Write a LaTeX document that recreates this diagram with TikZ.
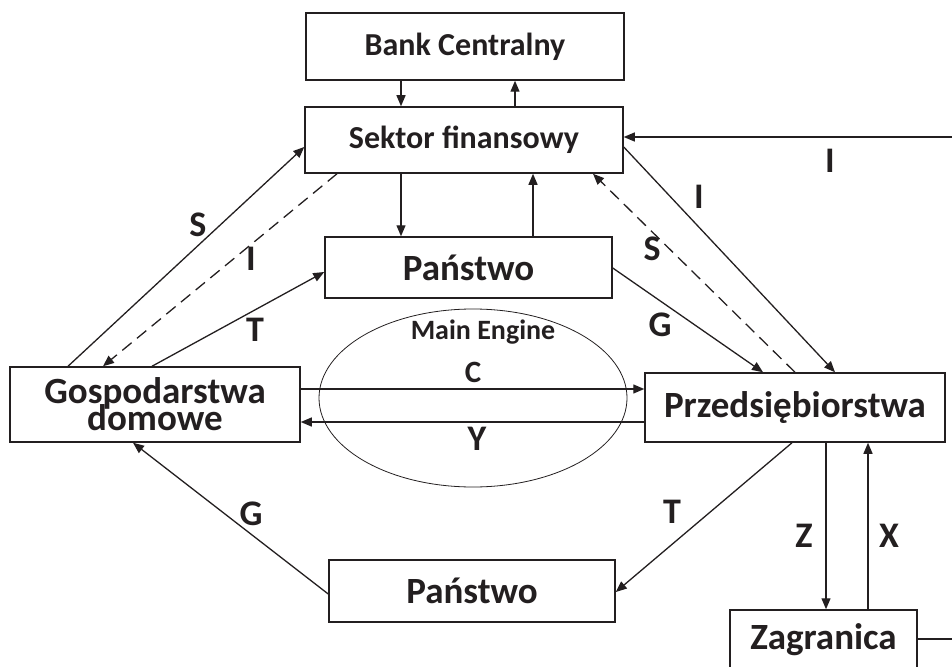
\documentclass[tikz,border=0pt]{standalone}
\usepackage{fontspec}
\setmainfont{Carlito}
\usetikzlibrary{arrows.meta,shapes.geometric}
\definecolor{ink}{HTML}{231F20}
\newcommand\bfsz[1]{\bfseries\fontsize{#1}{#1}\selectfont}
\newcommand\tightsz{\bfseries\fontsize{37}{27}\selectfont\lineskiplimit=-100pt\relax}

\begin{document}
\begin{tikzpicture}[x=1pt,y=-1pt,
  box/.style={draw=ink,line width=1.5pt,inner sep=0pt,text=ink,font=\bfsz{37}},
  smallbox/.style={box,font=\bfsz{32}},
  flow/.style={draw=ink,line width=1.3pt,-{Triangle[length=11pt,width=9pt]}},
  dflow/.style={flow,dash pattern=on 12pt off 7pt},
  plain/.style={draw=ink,line width=1.3pt},
  lbl/.style={inner sep=0pt,text=ink,font=\bfsz{36}}]
\useasboundingbox (0,0) rectangle (952,666);

% sectors
\node[smallbox,minimum width=318,minimum height=67] (bc) at (465,46.5) {Bank Centralny};
\node[smallbox,minimum width=318,minimum height=66] (sf) at (464,140) {Sektor finansowy};
\node[box,minimum width=287,minimum height=61] (pa) at (468.5,267.5) {Państwo};
\node[box,minimum width=290,minimum height=75,align=center,font=\tightsz] (gd) at (155,404.5)
      {Gospodarstwa\\domowe};
\node[box,minimum width=300,minimum height=69] (pr) at (795,407.5) {Przedsiębiorstwa};
\node[box,minimum width=286,minimum height=62] (pb) at (472,591) {Państwo};
\node[box,minimum width=187,minimum height=60] (zg) at (823.5,640) {Zagranica};

% the circular flow core
\node[ellipse,draw=ink,line width=0.8pt,minimum width=308,minimum height=178,inner sep=0pt] (me) at (473,398) {};
\node[inner sep=0pt,text=ink,font=\bfsz{28}] (met) at (483,332) {Main Engine};

% central bank <-> financial sector
\draw[flow] ([xshift=-64]bc.south) -- ([xshift=-64]bc.south |- sf.north);
\draw[flow] ([xshift=50]bc.south |- sf.north) -- ([xshift=50]bc.south);

% financial sector <-> state
\draw[flow] ([xshift=-63]sf.south) -- ([xshift=-63]sf.south |- pa.north);
\draw[flow] ([xshift=69]sf.south |- pa.north) -- ([xshift=69]sf.south);

% households
\draw[flow] ([xshift=-87]gd.north) -- ([yshift=-7]sf.west);
\draw[dflow] ([xshift=-127]sf.south) -- ([xshift=-52]gd.north);
\draw[flow] ([xshift=-3]gd.north) -- ([yshift=-4.5]pa.west);
\draw[flow] ([yshift=-3]pb.west) -- ([xshift=-22]gd.south);

% C and Y
\draw[flow] ([yshift=15.5]gd.east) -- ([yshift=15.5]gd.east -| pr.west);
\draw[flow] ([yshift=-14.5]pr.west) -- ([yshift=-14.5]pr.west -| gd.east);

% firms
\draw[flow] ([yshift=-7]sf.east) -- ([xshift=40]pr.north);
\draw[dflow] (pr.north) -- ([xshift=129]sf.south);
\draw[flow] ([yshift=-0.5]pa.east) -- ([xshift=-32]pr.north);
\draw[flow] ([xshift=-3]pr.south) -- ([yshift=-1]pb.east);

% investment coming from the right
\coordinate (iin) at (952,137);
\draw[flow] (iin) -- (iin -| sf.east);

% foreign sector
\draw[flow] ([xshift=31]pr.south) -- ([xshift=31]pr.south |- zg.north);
\draw[flow] ([xshift=73]pr.south |- zg.north) -- ([xshift=73]pr.south);
\coordinate (zout) at (952,639);
\draw[plain] (zout -| zg.east) -- (zout);

% flow labels
\node[lbl] (ls1) at (198,225) {S};
\node[lbl] (li1) at (251,259) {I};
\node[lbl] (lt1) at (255,330) {T};
\node[lbl] (lg1) at (251,514) {G};
\node[lbl] (ls2) at (652,249) {S};
\node[lbl] (li2) at (699,197) {I};
\node[lbl] (li3) at (830,161) {I};
\node[lbl] (lg2) at (660,325) {G};
\node[lbl] (lt2) at (672,512) {T};
\node[lbl,font=\bfsz{31}] (lc) at (473,372) {C};
\node[lbl] (ly) at (477,439) {Y};
\node[lbl] (lz) at (804,536) {Z};
\node[lbl] (lx) at (889,536) {X};
\end{tikzpicture}
\end{document}
